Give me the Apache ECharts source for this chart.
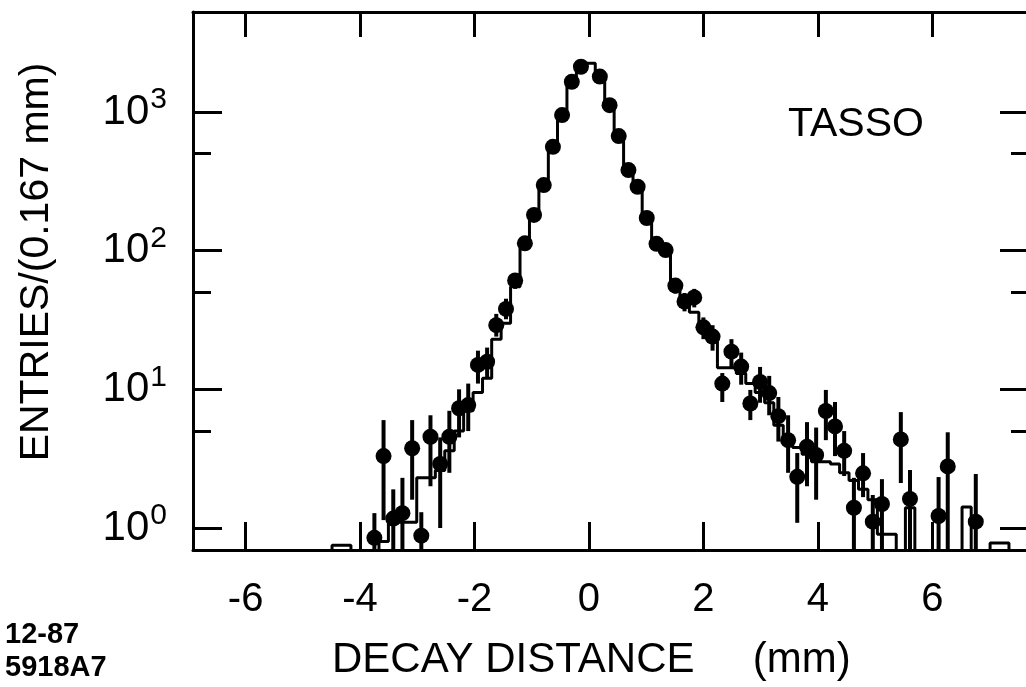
<!DOCTYPE html>
<html><head><meta charset="utf-8">
<script src="https://cdn.jsdelivr.net/npm/echarts@6/dist/echarts.min.js"></script>
<style>html,body{margin:0;padding:0;background:#fff}#c{width:1026px;height:687px}</style>
</head><body><div id="c"></div>
<script>
// bin centres (mm) of the histogram
const binX = [-4.57,-4.41,-4.24,-4.08,-3.92,-3.75,-3.59,-3.42,-3.26,-3.09,-2.93,-2.77,-2.60,-2.44,-2.27,-2.11,-1.94,-1.78,-1.62,-1.45,-1.29,-1.12,-0.96,-0.79,-0.63,-0.47,-0.30,-0.14,0.03,
  0.19,0.36,0.52,0.69,0.85,1.01,1.18,1.34,1.51,1.67,1.84,2.00,2.16,2.33,2.49,2.66,2.82,2.99,3.15,3.31,3.48,3.64,3.81,3.97,4.14,4.30,4.46,4.63,4.79,4.96,5.12,5.29,5.45,5.61,5.78,5.94,6.11,6.27,6.44,6.60,6.76,6.93,7.09,7.26,7.42,7.59];
// histogram (MC) entries per bin; values below the axis floor are empty bins
const histY = [0.3,0.75,0.75,0.3,0.3,0.3,0.8,1.1,1.1,1.1,2.3,2.3,2.6,3.6,5.0,7.0,9.5,12,23,30,55,105,175,290,530,950,1600,2100,2250,
  1750,1100,650,390,280,175,115,95,58,40,36,28,22,14.3,14.3,13,11,9.5,8,5.5,4.5,3.8,3.4,3.0,3.0,2.9,2.5,2.2,1.9,1.6,0.9,0.9,0.3,1.4,0.3,0.3,0.3,0.3,0.3,1.42,0.3,0.3,0.78,0.78,0.3,0.3];
// data points
const ptX  = [-3.75,-3.59,-3.42,-3.26,-3.09,-2.93,-2.77,-2.60,-2.44,-2.27,-2.11,-1.94,-1.78,-1.62,-1.45,-1.29,-1.12,-0.96,-0.79,-0.63,-0.47,-0.30,-0.14,
  0.19,0.36,0.52,0.69,0.85,1.01,1.18,1.34,1.51,1.67,1.84,2.00,2.16,2.33,2.49,2.66,2.82,2.99,3.15,3.31,3.48,3.64,3.81,3.97,4.14,4.30,4.46,4.63,4.79,4.96,5.12,5.45,5.61,6.11,6.27,6.76];
const ptY  = [0.85,3.3,1.17,1.28,3.76,0.88,4.55,2.9,4.55,7.3,7.7,15,15.8,29,38,61,113,181,297,561,950,1650,2120,
  1800,1120,670,381,289,172,112,101,56,43,46,28,24,11,18.7,14.6,7.9,11.3,9.4,6.4,4.3,2.34,3.86,3.36,6.98,5.4,3.6,1.4,2.48,1.11,1.49,4.35,1.62,1.22,2.78,1.11];
const ptLo = [0.7,1.14,0.7,0.7,1.6,0.7,2.0,1.0,2.5,4.5,5,11,12,24,32,53,102,168,280,537,919,1610,2074,
  1758,1087,644,361,272,159,101,91,49,36.5,39,23,19,8.1,14.4,10.8,6.0,8,6.5,4.2,2.5,1.09,2,1.6,4.3,3.3,2.37,0.7,1.67,0.7,0.7,2.11,0.7,0.7,0.7,0.7];
const ptHi = [1.28,6.0,1.9,2.3,6.0,1.3,6.5,4.5,7.0,10,11,19,20,35,45,69,124,194,314,585,981,1690,2166,
  1842,1153,696,401,306,185,123,111,63,49.5,53,33,29,13.1,23,18.4,9.9,14.5,12.5,8.8,6.5,3.47,5.8,5.3,9.9,8.1,5.0,2.3,3.47,1.73,2.25,6.85,2.62,2.33,4.9,2.45];
const xTicks = [-6,-4,-2,0,2,4,6];
const yMinor = [5,50,500];
const xMin = -6.92, xMax = 7.69, yMin = 0.694, yMax = 5260;

const F = '"Liberation Sans", Arial, sans-serif';
const chart = echarts.init(document.getElementById('c'), null, {renderer: 'canvas'});
const axLine = {show: true, onZero: false, lineStyle: {color: '#000', width: 3}};
const tickStyle = {color: '#000', width: 3};
const minorAxis = (pos) => ({
  type: 'value', position: pos, min: Math.log10(yMin), max: Math.log10(yMax),
  axisLine: {show: false, onZero: false}, splitLine: {show: false}, axisLabel: {show: false},
  axisTick: {show: true, inside: true, length: 18, lineStyle: tickStyle, customValues: yMinor.map(Math.log10)}
});
chart.setOption({
  animation: false,
  backgroundColor: '#fff',
  grid: {left: 193, top: 12, width: 836, height: 538, containLabel: false, outerBoundsMode: 'none'},
  xAxis: [
    {type: 'value', position: 'bottom', min: xMin, max: xMax, axisLine: axLine, splitLine: {show: false},
     axisTick: {inside: true, length: 28, lineStyle: tickStyle, customValues: xTicks},
     axisLabel: {customValues: xTicks, fontSize: 40, fontFamily: F, color: '#000', margin: 30}},
    {type: 'value', position: 'top', min: xMin, max: xMax, axisLine: axLine, splitLine: {show: false},
     axisTick: {inside: true, length: 25, lineStyle: tickStyle, customValues: xTicks},
     axisLabel: {show: false}}
  ],
  yAxis: [
    {type: 'log', logBase: 10, position: 'left', min: yMin, max: yMax, axisLine: axLine, splitLine: {show: false},
     axisTick: {inside: true, length: 29, lineStyle: tickStyle},
     axisLabel: {showMinLabel: false, showMaxLabel: false, margin: 26,
       formatter: v => '{b|10}{e|' + Math.round(Math.log10(v)) + '}',
       rich: {b: {fontSize: 42, fontFamily: F, color: '#000'},
              e: {fontSize: 30, fontFamily: F, color: '#000', padding: [0, 0, 24, 1]}}}},
    {type: 'log', logBase: 10, position: 'right', min: yMin, max: yMax, axisLine: axLine, splitLine: {show: false},
     axisTick: {inside: true, length: 29, lineStyle: tickStyle}, axisLabel: {show: false}},
    minorAxis('left'), minorAxis('right')
  ],
  series: [
    {type: 'line', step: 'middle', xAxisIndex: 0, yAxisIndex: 0, symbol: 'none', clip: true,
     lineStyle: {color: '#000', width: 3}, data: binX.map((x, i) => [x, histY[i]]), z: 2},
    {type: 'custom', xAxisIndex: 0, yAxisIndex: 0, clip: true, z: 3,
     data: ptX.map((x, i) => [x, ptLo[i], ptHi[i]]),
     encode: {x: 0, y: [1, 2]},
     renderItem: (params, api) => {
       const a = api.coord([api.value(0), api.value(1)]);
       const b = api.coord([api.value(0), api.value(2)]);
       return {type: 'line', shape: {x1: a[0], y1: a[1], x2: b[0], y2: b[1]}, style: {stroke: '#000', lineWidth: 4}};
     }},
    {type: 'scatter', xAxisIndex: 0, yAxisIndex: 0, symbol: 'circle', symbolSize: 16, z: 4,
     itemStyle: {color: '#000', opacity: 1}, data: ptX.map((x, i) => [x, ptY[i]])}
  ],
  graphic: [
    {type: 'text', x: 37, y: 262, rotation: Math.PI / 2,
     style: {text: 'ENTRIES/(0.167 mm)', fontSize: 41, fontFamily: F, fill: '#000', align: 'center', verticalAlign: 'middle'}},
    {type: 'text', x: 332, y: 660,
     style: {text: 'DECAY DISTANCE     (mm)', fontSize: 42, fontFamily: F, fill: '#000', align: 'left', verticalAlign: 'middle'}},
    {type: 'text', x: 788, y: 125,
     style: {text: 'TASSO', fontSize: 41, fontFamily: F, fill: '#000', align: 'left', verticalAlign: 'middle'}},
    {type: 'text', x: 5, y: 635,
     style: {text: '12-87', fontSize: 29, fontWeight: 'bold', fontFamily: F, fill: '#000', align: 'left', verticalAlign: 'middle'}},
    {type: 'text', x: 5, y: 668,
     style: {text: '5918A7', fontSize: 29, fontWeight: 'bold', fontFamily: F, fill: '#000', align: 'left', verticalAlign: 'middle'}}
  ]
});
</script></body></html>
